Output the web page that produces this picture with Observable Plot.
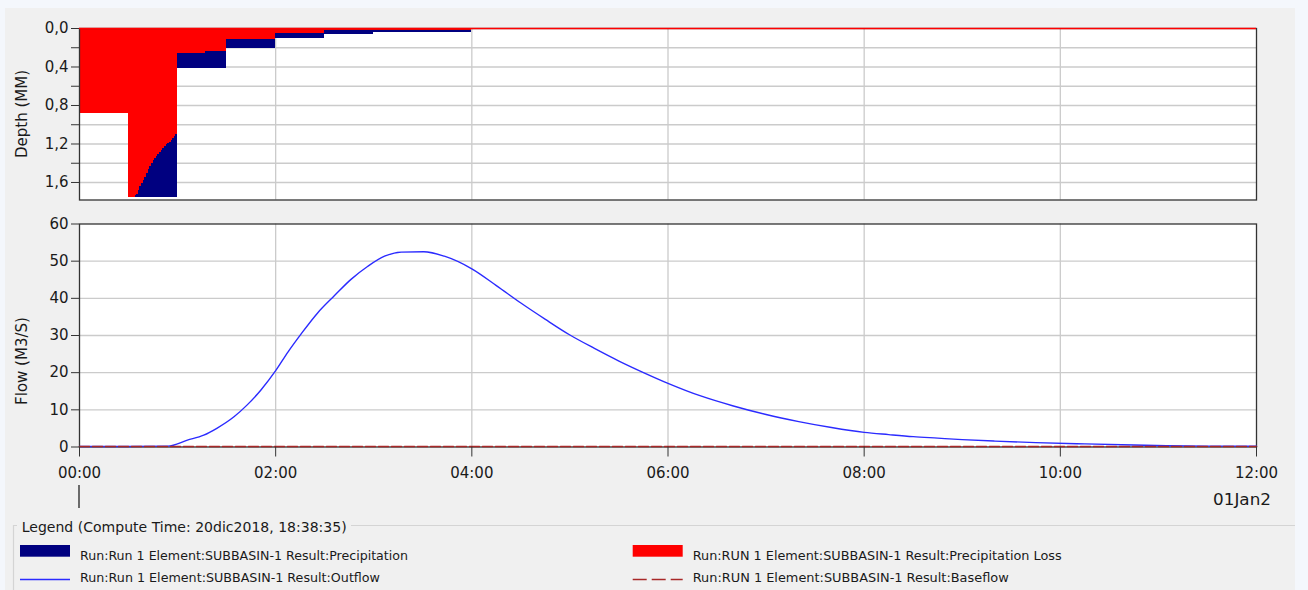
<!DOCTYPE html>
<html>
<head>
<meta charset="utf-8">
<script src="https://cdn.jsdelivr.net/npm/d3@7"></script>
<script src="https://cdn.jsdelivr.net/npm/@observablehq/plot@0.6"></script>
<style>
  html, body { margin: 0; padding: 0; }
  body { width: 1308px; height: 590px; overflow: hidden; background: #f4f7fc; font-family: "DejaVu Sans", sans-serif; position: relative; }
  #panel { position: absolute; left: 5px; top: 8px; width: 1290px; height: 582px; background: #f0f0f0; }
  #top { position: absolute; left: 0; top: 0; width: 1290px; }
  #bottom { position: absolute; left: 0; top: 192px; width: 1290px; }
  #legend { position: absolute; left: 0; top: 0; }
  svg { overflow: visible; max-width: none !important; }
</style>
</head>
<body>
<div id="panel">
  <div id="top"></div><div id="bottom"></div>
  <div id="legend"></div>
</div>
<script>
// ---------- data (minutes from 01Jan 00:00) ----------
const precipStart = [0, 30, 60, 90, 120, 150, 180, 210];
const precipEnd   = [30, 60, 90, 120, 150, 180, 210, 240];
const precipDepth = [0.883, 1.756, 0.42, 0.204, 0.10, 0.058, 0.04, 0.038];

const lossStart = [0, 30, 34, 35, 36, 37, 38, 39, 40, 41, 42, 43, 44, 45, 46, 47, 48, 49, 50, 51, 52, 53, 54, 55, 56, 57, 58, 59, 60, 77, 90, 120, 150, 180, 210];
const lossEnd   = [30, 34, 35, 36, 37, 38, 39, 40, 41, 42, 43, 44, 45, 46, 47, 48, 49, 50, 51, 52, 53, 54, 55, 56, 57, 58, 59, 60, 77, 90, 120, 150, 180, 210, 240];
const lossDepth = [0.883, 1.756, 1.74, 1.72, 1.68, 1.645, 1.61, 1.575, 1.545, 1.51, 1.47, 1.43, 1.40, 1.375, 1.35, 1.325, 1.31, 1.29, 1.27, 1.25, 1.23, 1.21, 1.195, 1.18, 1.16, 1.14, 1.125, 1.105, 0.256, 0.24, 0.117, 0.052, 0.024, 0.02, 0.018];

const flowTime  = [0, 30, 54, 66, 76, 84, 94.5, 102.6, 111, 120, 127.5, 135.6, 145.8, 156, 165.9, 176.4, 186.6, 196.8, 210.6, 223.2, 240, 255, 270, 285, 300, 315, 330, 345, 360, 380, 400, 420, 440, 460, 480, 495, 510, 525, 540, 560, 585, 615, 645, 665, 690, 720];
const flowValue = [0, 0, 0.1, 1.7, 3.05, 4.9, 8.0, 11.2, 15.2, 20.4, 25.4, 30.3, 36.0, 40.6, 44.9, 48.5, 51.2, 52.3, 52.4, 51.2, 47.8, 43.3, 38.6, 34.2, 30.0, 26.4, 23.0, 19.9, 17.0, 13.6, 10.9, 8.6, 6.7, 5.1, 3.8, 3.2, 2.65, 2.25, 1.85, 1.45, 1.05, 0.7, 0.4, 0.2, 0.1, 0.05];

const baseTime  = [0, 720];
const baseValue = [0, 0];

const timeTicks  = [0, 120, 240, 360, 480, 600, 720];
const timeLabels = ["00:00", "02:00", "04:00", "06:00", "08:00", "10:00", "12:00"];
const timeGrid   = [120, 240, 360, 480, 600];
const depthLabelTicks = [0, 0.4, 0.8, 1.2, 1.6];
const depthMinorTicks = [0.2, 0.6, 1.0, 1.4];
const depthGrid  = [0.2, 0.4, 0.6, 0.8, 1.0, 1.2, 1.4, 1.6];
const flowTicks  = [0, 10, 20, 30, 40, 50, 60];
const flowGrid   = [10, 20, 30, 40, 50];

const legendTitle = "Legend (Compute Time: 20dic2018, 18:38:35)";
const seriesNames = [
  "Run:Run 1 Element:SUBBASIN-1 Result:Precipitation",
  "Run:Run 1 Element:SUBBASIN-1 Result:Outflow",
  "Run:RUN 1 Element:SUBBASIN-1 Result:Precipitation Loss",
  "Run:RUN 1 Element:SUBBASIN-1 Result:Baseflow"
];
const dateLabel = "01Jan2";
const depthLabel = "Depth (MM)";
const flowLabel = "Flow (M3/S)";

// ---------- tables ----------
const precip = precipStart.map((s, i) => ({s, e: precipEnd[i], v: precipDepth[i]}));
const loss = lossStart.map((s, i) => ({s, e: lossEnd[i], v: lossDepth[i]}));
const flow = flowTime.map((t, i) => ({t, v: flowValue[i]}));
const base = baseTime.map((t, i) => ({t, v: baseValue[i]}));

const NAVY = "#000080", RED = "#ff0000", BLUE = "#2b2bff", BROWN = "#a82828";
const GRID = "#cbcbcb", AXIS = "#333", TXT = "#1a1a1a";
const W = 1290, ML = 74, MR = W - 1251;
const commaFmt = d => d.toFixed(1).replace(".", ",");
const style = {fontFamily: "DejaVu Sans, sans-serif", fontSize: "15px", background: "transparent", overflow: "visible", color: TXT, maxWidth: "none"};

// ---------- top panel ----------
const topPlot = Plot.plot({
  width: W, height: 200,
  marginLeft: ML, marginRight: MR, marginTop: 20, marginBottom: 8.5,
  style,
  x: {domain: [0, 720], axis: null},
  y: {domain: [0, 1.782], reverse: true, axis: null},
  marks: [
    Plot.frame({fill: "white"}),
    Plot.ruleY(depthGrid, {stroke: GRID, strokeWidth: 1.3}),
    Plot.ruleX(timeGrid, {stroke: GRID, strokeWidth: 1.3}),
    Plot.rectY(precip, {x1: "s", x2: "e", y: "v", fill: NAVY, shapeRendering: "crispEdges"}),
    Plot.rectY(loss, {x1: "s", x2: "e", y: "v", fill: RED, shapeRendering: "crispEdges"}),
    Plot.frame({stroke: AXIS, strokeWidth: 1.3}),
    Plot.ruleY([0], {stroke: RED, strokeWidth: 1.5}),
    Plot.axisY(depthMinorTicks, {anchor: "left", tickSize: 8, tickFormat: () => "", stroke: AXIS, label: null}),
    Plot.axisY(depthLabelTicks, {anchor: "left", tickSize: 8, tickPadding: 3, tickFormat: commaFmt, stroke: AXIS, fill: TXT, label: null, fontSize: 15})
  ]
});
document.getElementById("top").appendChild(topPlot);
d3.select(topPlot).append("text")
  .attr("transform", "translate(17,106) rotate(-90)")
  .attr("text-anchor", "middle").attr("dominant-baseline", "central")
  .attr("fill", TXT).style("font-size", "15px").text(depthLabel);

// ---------- bottom panel ----------
const botPlot = Plot.plot({
  width: W, height: 310,
  marginLeft: ML, marginRight: MR, marginTop: 23.5, marginBottom: 63.5,
  style,
  x: {domain: [0, 720], axis: null},
  y: {domain: [0, 60], axis: null},
  marks: [
    Plot.frame({fill: "white"}),
    Plot.ruleY(flowGrid, {stroke: GRID, strokeWidth: 1.3}),
    Plot.ruleX(timeGrid, {stroke: GRID, strokeWidth: 1.3}),
    Plot.frame({stroke: AXIS, strokeWidth: 1.3}),
    Plot.lineY(flow, {x: "t", y: "v", stroke: BLUE, strokeWidth: 1.4, curve: "monotone-x", dy: -0.5}),
    Plot.lineY(base, {x: "t", y: "v", stroke: BROWN, strokeWidth: 1.6, strokeDasharray: "10,3", dy: -0.5}),
    Plot.axisY(flowTicks, {anchor: "left", tickSize: 8, tickPadding: 3, stroke: AXIS, fill: TXT, label: null, fontSize: 15}),
    Plot.axisX(timeTicks, {anchor: "bottom", tickSize: 10, tickPadding: 10, stroke: AXIS, fill: TXT, label: null, fontSize: 15,
      tickFormat: d => timeLabels[timeTicks.indexOf(d)]})
  ]
});
document.getElementById("bottom").appendChild(botPlot);
const xs = botPlot.scale("x");
const bsel = d3.select(botPlot);
bsel.append("text")
  .attr("transform", "translate(17,161) rotate(-90)")
  .attr("text-anchor", "middle").attr("dominant-baseline", "central")
  .attr("fill", TXT).style("font-size", "15px").text(flowLabel);
bsel.append("line")
  .attr("x1", xs.apply(0)).attr("x2", xs.apply(0))
  .attr("y1", 285).attr("y2", 308)
  .attr("stroke", "#222").attr("stroke-width", 1.3);
bsel.append("text")
  .attr("x", xs.apply(720) + 15).attr("y", 299.5)
  .attr("text-anchor", "end")
  .attr("dominant-baseline", "central")
  .attr("textLength", 58).attr("lengthAdjust", "spacingAndGlyphs")
  .attr("fill", TXT).style("font-size", "15px").text(dateLabel);

// ---------- legend ----------
const lg = d3.select("#legend").append("svg")
  .attr("width", 1290).attr("height", 582)
  .style("font-family", "DejaVu Sans, sans-serif");
lg.append("path")
  .attr("d", "M8.5,582 V517.5 H12 M346,517.5 H1290")
  .attr("fill", "none").attr("stroke", "#d4d4d4").attr("stroke-width", 1.2);
lg.append("text").attr("x", 16.7).attr("y", 518.7)
  .attr("dominant-baseline", "central").attr("fill", TXT)
  .attr("textLength", 325).attr("lengthAdjust", "spacingAndGlyphs")
  .style("font-size", "14px").text(legendTitle);

const items = [
  {x: 15, y: 548, kind: "rect", color: NAVY, name: seriesNames[0], len: 328},
  {x: 15, y: 570, kind: "line", color: BLUE, name: seriesNames[1], len: 300},
  {x: 627.7, y: 548, kind: "rect", color: RED, name: seriesNames[2], len: 369},
  {x: 627.7, y: 570, kind: "dash", color: BROWN, name: seriesNames[3], len: 316}
];
items.forEach(it => {
  if (it.kind === "rect") {
    lg.append("rect").attr("x", it.x).attr("y", 537).attr("width", 50).attr("height", 11.7)
      .attr("fill", it.color);
  } else {
    lg.append("line").attr("x1", it.x).attr("x2", it.x + 50).attr("y1", it.y + 1.5).attr("y2", it.y + 1.5)
      .attr("stroke", it.color).attr("stroke-width", it.kind === "dash" ? 1.6 : 1.4)
      .attr("stroke-dasharray", it.kind === "dash" ? "14,5" : null);
  }
  lg.append("text").attr("x", it.x + 60).attr("y", it.y - 0.5)
    .attr("dominant-baseline", "central").attr("fill", TXT)
    .attr("textLength", it.len).attr("lengthAdjust", "spacingAndGlyphs")
    .style("font-size", "13px").text(it.name);
});
</script>
</body>
</html>
